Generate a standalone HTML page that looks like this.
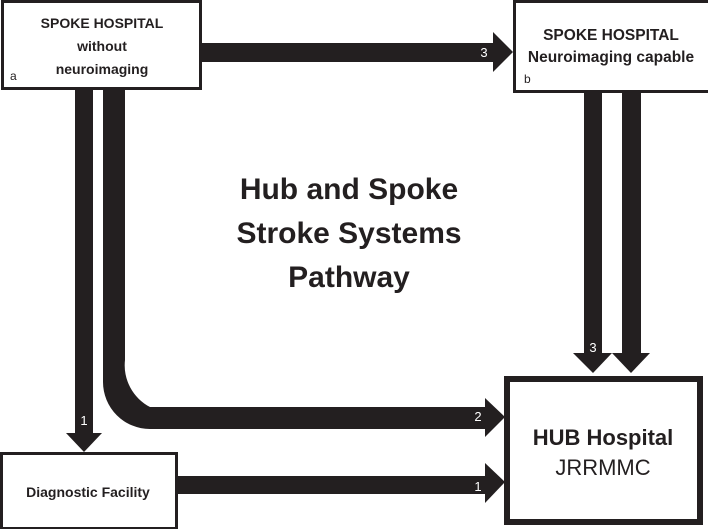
<!DOCTYPE html>
<html><head><meta charset="utf-8"><style>
html,body{margin:0;padding:0;background:#fff;}
svg{display:block;}
text{font-family:"Liberation Sans",sans-serif;}
</style></head><body>
<svg width="708" height="529" viewBox="0 0 708 529" xmlns="http://www.w3.org/2000/svg">
<rect x="0" y="0" width="708" height="529" fill="#fff"/>
<g fill="#231f20">
<rect x="201" y="43" width="294" height="19"/>
<polygon points="493,32 513,52 493,72"/>
<rect x="75" y="89" width="18" height="346"/>
<polygon points="66,433 102,433 84,452"/>
<path d="M103,89 H125 V360 A47,47 0 0 0 150,407 H487 V429 H150 A47,47 0 0 1 103,382 Z"/>
<polygon points="485,398 505,417 485,437"/>
<rect x="177" y="476" width="310" height="18"/>
<polygon points="485,463 505,482 485,503"/>
<rect x="584" y="92" width="18" height="262"/>
<polygon points="573,353 612,353 593,373"/>
<rect x="622" y="92" width="19" height="262"/>
<polygon points="612,353 650,353 631,373"/>
</g>
<rect x="2.5" y="1.5" width="198" height="87" fill="#fff" stroke="#231f20" stroke-width="3"/>
<rect x="514.5" y="1.5" width="196" height="90" fill="#fff" stroke="#231f20" stroke-width="3"/>
<rect x="1.5" y="453.5" width="175" height="75" fill="#fff" stroke="#231f20" stroke-width="3"/>
<rect x="507" y="379" width="193" height="143" fill="#fff" stroke="#231f20" stroke-width="6"/>
<g fill="#231f20" text-anchor="middle" font-weight="bold" font-size="14">
<text x="102" y="28">SPOKE HOSPITAL</text>
<text x="102" y="51">without</text>
<text x="102" y="74">neuroimaging</text>
<text x="88" y="497">Diagnostic Facility</text>
</g>
<g fill="#231f20" text-anchor="middle" font-weight="bold" font-size="15.5">
<text x="611" y="40">SPOKE HOSPITAL</text>
<text x="611" y="62">Neuroimaging capable</text>
</g>
<text x="10" y="80" font-size="12" fill="#231f20">a</text>
<text x="524" y="83" font-size="12" fill="#231f20">b</text>
<g fill="#231f20" text-anchor="middle" font-weight="bold" font-size="30">
<text x="349" y="199">Hub and Spoke</text>
<text x="349" y="243">Stroke Systems</text>
<text x="349" y="287">Pathway</text>
</g>
<text x="603" y="445" text-anchor="middle" font-weight="bold" font-size="22" fill="#231f20">HUB Hospital</text>
<text x="603" y="475" text-anchor="middle" font-size="22" fill="#231f20">JRRMMC</text>
<g fill="#fff" font-size="13" text-anchor="middle">
<text x="484" y="57">3</text>
<text x="593" y="352">3</text>
<text x="478" y="421">2</text>
<text x="84" y="425">1</text>
<text x="478" y="491">1</text>
</g>
</svg>
</body></html>
